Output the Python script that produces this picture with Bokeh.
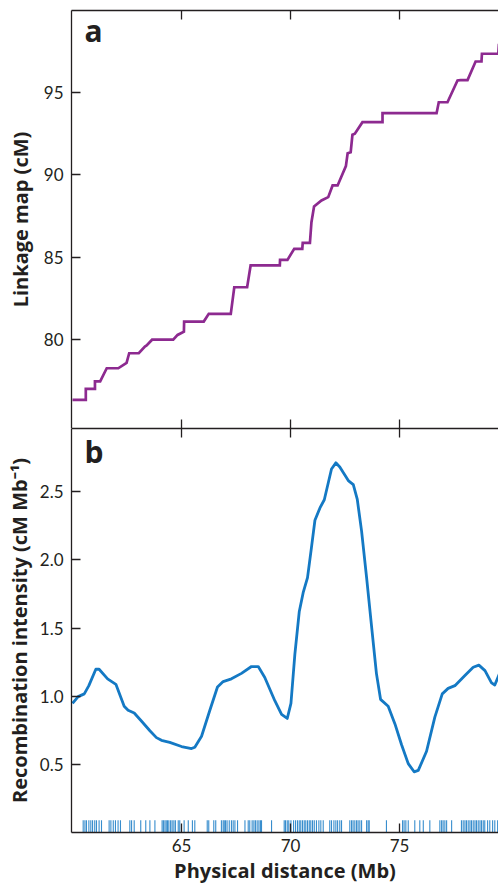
import math
from bokeh.plotting import figure
from bokeh.layouts import column
from bokeh.models import LinearAxis, FixedTicker, Range1d, Label, NumeralTickFormatter
from bokeh.embed import file_html
from bokeh.resources import INLINE

# ---- data -------------------------------------------------------------
# Panel a: linkage map (vertices of the step line)
link_mb = [60.00, 60.61, 60.61, 61.03, 61.03, 61.27, 61.57, 62.10, 62.48, 62.60,
           63.04, 63.32, 63.40, 63.65, 64.62, 64.82, 65.11, 65.12, 66.02, 66.25,
           67.26, 67.42, 68.01, 68.17, 69.51, 69.52, 69.86, 70.17, 70.54, 70.56,
           70.89, 70.96, 71.08, 71.42, 71.73, 71.93, 72.16, 72.54, 72.62, 72.76,
           72.84, 72.95, 73.30, 74.22, 74.22, 76.70, 76.80, 77.20, 77.66, 77.80,
           78.12, 78.49, 78.76, 78.78, 79.53, 79.56]
link_cm = [76.36, 76.36, 77.02, 77.02, 77.47, 77.47, 78.27, 78.27, 78.60, 79.18,
           79.18, 79.59, 79.65, 80.00, 80.00, 80.29, 80.49, 81.10, 81.10, 81.57,
           81.57, 83.18, 83.18, 84.50, 84.50, 84.84, 84.84, 85.51, 85.51, 85.87,
           85.87, 87.12, 88.07, 88.44, 88.64, 89.35, 89.35, 90.52, 91.30, 91.36,
           92.42, 92.48, 93.18, 93.18, 93.73, 93.73, 94.39, 94.39, 95.71, 95.73,
           95.73, 96.86, 96.86, 97.33, 97.33, 97.93]

# Panel b: recombination intensity
rec_mb = [60.00, 60.26, 60.54, 60.75, 61.07, 61.22, 61.61, 61.99, 62.37, 62.55,
          62.83, 63.17, 63.55, 63.85, 64.08, 64.46, 65.00, 65.46, 65.61, 65.92,
          66.30, 66.65, 66.91, 67.29, 67.75, 68.21, 68.52, 68.82, 69.28, 69.59,
          69.85, 70.02, 70.20, 70.40, 70.58, 70.78, 70.96, 71.12, 71.35, 71.55,
          71.88, 72.08, 72.26, 72.65, 72.88, 73.06, 73.26, 73.49, 73.72, 73.94,
          74.13, 74.48, 74.79, 75.09, 75.40, 75.67, 75.86, 76.24, 76.62, 76.96,
          77.23, 77.54, 78.00, 78.38, 78.64, 78.92, 79.22, 79.37, 79.59]
rec_val = [0.95, 1.00, 1.02, 1.08, 1.20, 1.20, 1.13, 1.09, 0.93, 0.90,
           0.88, 0.82, 0.75, 0.70, 0.68, 0.665, 0.635, 0.62, 0.63, 0.71,
           0.90, 1.07, 1.11, 1.13, 1.17, 1.22, 1.22, 1.14, 0.97, 0.87,
           0.84, 0.95, 1.31, 1.62, 1.76, 1.87, 2.09, 2.29, 2.38, 2.44,
           2.665, 2.71, 2.68, 2.58, 2.55, 2.445, 2.21, 1.87, 1.51, 1.17,
           0.98, 0.93, 0.80, 0.65, 0.51, 0.45, 0.46, 0.60, 0.85, 1.02,
           1.06, 1.08, 1.155, 1.215, 1.23, 1.19, 1.10, 1.085, 1.17]

# Marker positions (rug)
marker_mb = [60.49, 60.57, 60.64, 60.75, 60.84, 60.92, 61.02, 61.10, 61.22, 61.33,
             61.68, 61.76, 61.87, 61.97, 62.09, 62.20, 62.63, 62.71, 62.83, 63.13,
             63.36, 63.55, 63.78, 64.11, 64.17, 64.24, 64.30, 64.36, 64.42, 64.50,
             64.57, 64.65, 64.72, 64.85, 64.92, 65.12, 65.31, 65.50, 65.61, 66.18,
             66.25, 66.48, 66.57, 66.83, 66.91, 66.96, 67.02, 67.09, 67.19, 67.29,
             67.37, 67.45, 67.57, 67.91, 68.06, 68.13, 68.24, 68.32, 68.39, 68.47,
             68.55, 68.62, 68.67, 69.13, 69.71, 69.77, 69.85, 69.92, 70.02, 70.14,
             70.23, 70.32, 70.40, 70.47, 70.55, 70.63, 70.70, 70.78, 70.86, 70.93,
             71.01, 71.09, 71.19, 71.30, 71.39, 71.50, 71.80, 71.88, 71.99, 72.08,
             72.16, 72.26, 72.34, 72.72, 72.80, 72.87, 72.95, 73.03, 73.10, 73.18,
             73.26, 73.49, 73.56, 73.61, 74.40, 75.14, 75.21, 75.29, 75.40, 75.70,
             75.93, 76.09, 76.39, 76.85, 76.93, 77.00, 77.08, 77.16, 77.39, 77.84,
             77.92, 78.00, 78.07, 78.15, 78.23, 78.30, 78.38, 78.46, 78.53, 78.61,
             78.69, 78.76, 78.84, 78.91, 79.04, 79.14, 79.27, 79.37, 79.50]

x_ticks = [65, 70, 75]
a_ticks = [80, 85, 90, 95]
b_ticks = [0.5, 1.0, 1.5, 2.0, 2.5]

# ---- style ---------------------------------------------------------------
TICK_FONT = "Lato"
LABEL_FONT = "Open Sans"
INK = "#231f20"
PURPLE = "#8d2a90"
BLUE = "#1479c4"
TICK_LEN = 9
W = 498

x_range = Range1d(59.954, 79.54)


def style_axis(ax):
    ax.axis_line_color = INK
    ax.axis_line_width = 1.3
    ax.major_tick_line_color = INK
    ax.major_tick_line_width = 1.3
    ax.major_tick_in = TICK_LEN
    ax.major_tick_out = 0
    ax.minor_tick_line_color = None
    ax.major_label_text_font = TICK_FONT
    ax.major_label_text_color = INK
    ax.major_label_text_font_size = "17px"
    ax.axis_label_text_font = LABEL_FONT
    ax.axis_label_text_font_style = "bold"
    ax.axis_label_text_color = INK
    ax.axis_label_text_font_size = "20px"


def line_axis(p, side):
    # plain frame edge without ticks or labels
    ax = LinearAxis(ticker=FixedTicker(ticks=[]))
    style_axis(ax)
    p.add_layout(ax, side)


def base(height, yr, top, bottom):
    p = figure(width=W, height=height, x_range=x_range, y_range=yr,
               output_backend="svg", toolbar_location=None,
               x_axis_location=None, y_axis_location=None,
               min_border_left=71, min_border_right=0,
               min_border_top=top, min_border_bottom=bottom)
    p.outline_line_color = None
    p.background_fill_color = "white"
    p.border_fill_color = "white"
    p.xgrid.visible = False
    p.ygrid.visible = False
    return p


def inner_ticks(p, y, down):
    p.ray(x=x_ticks, y=[y] * len(x_ticks), length=TICK_LEN, length_units="screen",
          angle=(-math.pi / 2) if down else (math.pi / 2),
          line_color=INK, line_width=1.3)


# ---- panel a -------------------------------------------------------------
ya = Range1d(74.62, 99.95)
pa = base(428, ya, 10, 0)
line_axis(pa, "above")
line_axis(pa, "below")
ay = LinearAxis(ticker=FixedTicker(ticks=a_ticks), axis_label="Linkage map (cM)")
style_axis(ay)
ay.major_label_standoff = 8
ay.axis_label_standoff = 7
pa.add_layout(ay, "left")
inner_ticks(pa, ya.end, True)
inner_ticks(pa, ya.start, False)

pa.line(link_mb, link_cm, line_color=PURPLE, line_width=2.7, line_join="miter")
pa.add_layout(Label(x=60.55, y=98.75, text="a", text_font=LABEL_FONT, text_font_style="bold",
                    text_font_size="30px", text_color=INK, text_baseline="alphabetic"))

# ---- panel b -------------------------------------------------------------
yb = Range1d(0.006, 2.961)
pb = base(458, yb, 0, 0)
line_axis(pb, "above")
bx = LinearAxis(ticker=FixedTicker(ticks=x_ticks), axis_label="Physical distance (Mb)")
style_axis(bx)
bx.major_label_standoff = 6
bx.axis_label_standoff = 2
pb.add_layout(bx, "below")
by = LinearAxis(ticker=FixedTicker(ticks=b_ticks), axis_label="Recombination intensity (cM Mb\u207b\u00b9)",
                formatter=NumeralTickFormatter(format="0.0"))
style_axis(by)
by.major_label_standoff = 8
by.axis_label_standoff = 4
pb.add_layout(by, "left")
inner_ticks(pb, yb.end, True)

pb.segment(x0=marker_mb, y0=[0.0] * len(marker_mb), x1=marker_mb, y1=[0.095] * len(marker_mb),
           line_color=BLUE, line_width=1.1, line_alpha=0.85)
pb.line(rec_mb, rec_val, line_color=BLUE, line_width=2.8, line_join="round")
pb.add_layout(Label(x=60.55, y=2.79, text="b", text_font=LABEL_FONT, text_font_style="bold",
                    text_font_size="30px", text_color=INK, text_baseline="alphabetic"))

layout = column(pa, pb, spacing=0)
open("out.html", "w").write(file_html(layout, INLINE))
